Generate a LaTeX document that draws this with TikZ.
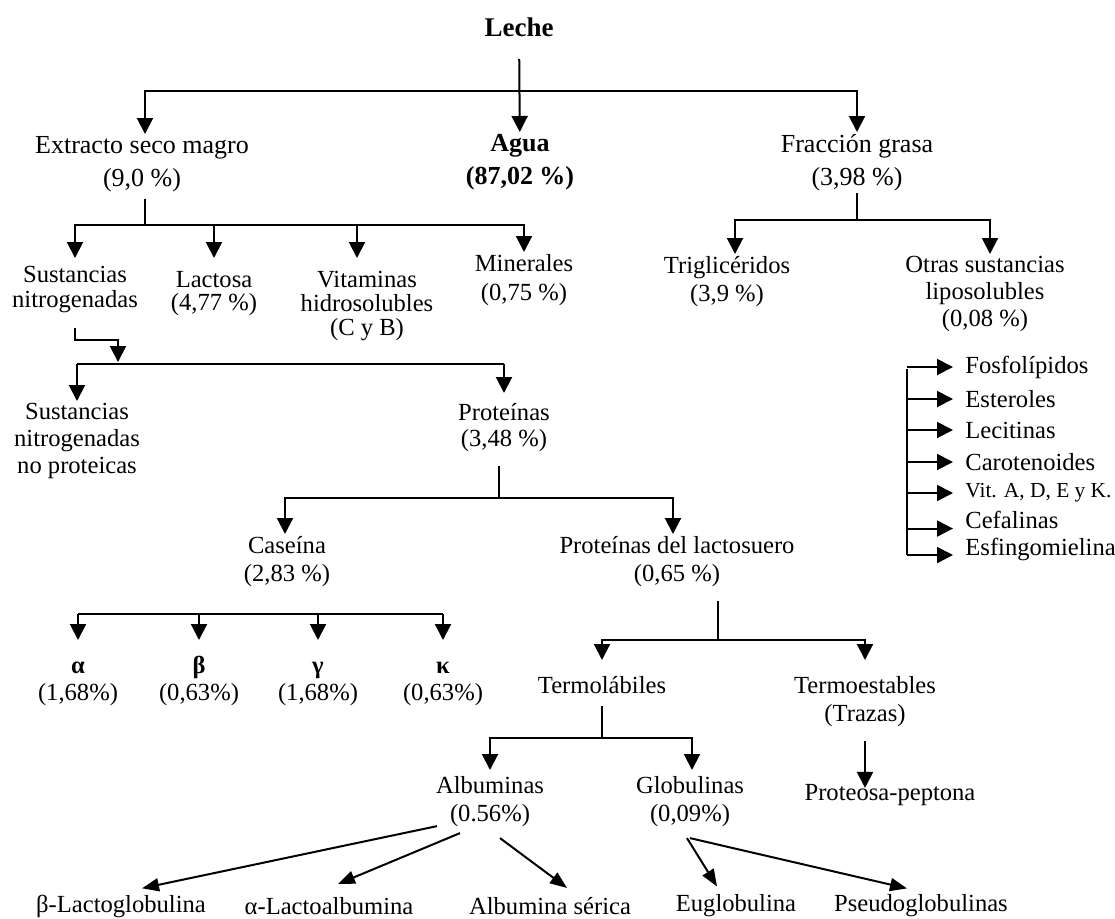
\documentclass[tikz,border=0pt]{standalone}
\usepackage{fontspec}
\setmainfont{Liberation Serif}
\usetikzlibrary{arrows.meta, positioning}

\begin{document}
\begin{tikzpicture}[x=0.5pt, y=-0.5pt,
        box/.style={align=center, inner sep=1pt, font=\fontsize{12.3}{13.5}\selectfont},
        top/.style={box, anchor=north, font=\fontsize{13}{16.5}\selectfont},
        item/.style={anchor=west, inner sep=1pt, font=\fontsize{12.3}{14}\selectfont},
        line/.style={draw, line width=1pt},
        arr/.style={line, -{Triangle[width=8pt, length=8pt]}},
        slant/.style={line, -{Triangle[width=6.5pt, length=8.5pt]}},
        lipo/.style={arr, shorten >=5pt}]

    \useasboundingbox (0,0) rectangle (1115,918);

    % Nodes
    \node [box, font=\bfseries\fontsize{13.5}{16}\selectfont] (leche) at (519,27) {Leche};
    \node [top] (esm) at (142,134) {Extracto seco magro\\(9,0 \%)};
    \node [top, font=\bfseries\fontsize{13}{16.5}\selectfont] (agua) at (520,132) {Agua\\(87,02 \%)};
    \node [top] (grasa) at (857,132) {Fracción grasa\\(3,98 \%)};

    \node [box, anchor=north, font=\fontsize{12.3}{12.5}\selectfont] (nitro) at (75,264) {Sustancias\\nitrogenadas};
    \node [box, anchor=north, font=\fontsize{12.3}{11.5}\selectfont] (lactosa) at (214,269) {Lactosa\\(4,77 \%)};
    \node [box, anchor=north, font=\fontsize{12.3}{12}\selectfont] (vitam) at (367,269) {Vitaminas\\hidrosolubles\\(C y B)};
    \node [box, anchor=north, font=\fontsize{12.3}{14.5}\selectfont] (miner) at (524,252) {Minerales\\(0,75 \%)};
    \node [box, anchor=north, font=\fontsize{12.3}{14}\selectfont] (trigli) at (727,254) {Triglicéridos\\(3,9 \%)};
    \node [box, anchor=north] (otras) at (985,254) {Otras sustancias\\liposolubles\\(0,08 \%)};

    \node [item] (fosfo) at (963,367) {Fosfolípidos};
    \node [item] (ester) at (963,399) {Esteroles};
    \node [item] (lecit) at (963,430) {Lecitinas};
    \node [item] (carot) at (963,462) {Carotenoides};
    \node [item, font=\fontsize{10.7}{12}\selectfont] (vitak) at (963,493) {Vit. A, D, E y K.};
    \node [item] (cefal) at (963,520) {Cefalinas};
    \node [item] (esfin) at (963,549) {Esfingomielina};

    \node [box, anchor=north] (nnp) at (77,401) {Sustancias\\nitrogenadas\\no proteicas};
    \node [box, anchor=north, font=\fontsize{12.3}{13}\selectfont] (prot) at (504,401) {Proteínas\\(3,48 \%)};
    \node [box, anchor=north, font=\fontsize{12.3}{14}\selectfont] (caseina) at (287,534) {Caseína\\(2,83 \%)};
    \node [box, anchor=north, font=\fontsize{12.3}{14}\selectfont] (suero) at (677,534) {Proteínas del lactosuero\\(0,65 \%)};

    \node [box, anchor=north] (alfa) at (78,654) {\textbf{α}\vphantom{(}\\(1,68\%)};
    \node [box, anchor=north] (beta) at (199,654) {\textbf{β}\vphantom{(}\\(0,63\%)};
    \node [box, anchor=north] (gamma) at (318,654) {\textbf{γ}\vphantom{(}\\(1,68\%)};
    \node [box, anchor=north] (kappa) at (443,654) {\textbf{κ}\vphantom{(}\\(0,63\%)};

    \node [box, anchor=north] (termol) at (602,674) {Termolábiles};
    \node [box, anchor=north, font=\fontsize{12.3}{14}\selectfont] (termoe) at (865,674) {Termoestables\\(Trazas)};
    \node [box, anchor=north, font=\fontsize{12.3}{14}\selectfont] (albu) at (490,774) {Albuminas\\(0.56\%)};
    \node [box, anchor=north, font=\fontsize{12.3}{14}\selectfont] (glob) at (690,774) {Globulinas\\(0,09\%)};
    \node [box] (pp) at (890,795) {Proteosa-peptona};

    \node [box] (blg) at (121,906) {β-Lactoglobulina};
    \node [box] (ala) at (329,906) {α-Lactoalbumina};
    \node [box] (albs) at (550,906) {Albumina sérica};
    \node [box] (eug) at (736,906) {Euglobulina};
    \node [box] (pseudo) at (921,906) {Pseudoglobulinas};

    % Bus points
    \coordinate (b1) at (520,91);
    \coordinate (b2) at (145,225);
    \coordinate (b3) at (857,220);
    \coordinate (b4) at (118,364);
    \coordinate (b5) at (499,498);
    \coordinate (b6) at (78,614);
    \coordinate (b7) at (718,640);
    \coordinate (b8) at (602,738);
    \coordinate (lbar) at (907,369);

    % Edges
    \draw [arr, shorten <=10pt] (leche) -- (agua);
    \draw [arr] (b1) -| ([xshift=1.5pt]esm.north);
    \draw [arr] (b1) -| (grasa);

    \draw [line, shorten <=2.5pt] (esm.south -| b2) -- (b2);
    \draw [arr, shorten >=3pt] (b2) -| (nitro);
    \draw [arr, shorten >=5.5pt] (b2) -| (lactosa);
    \draw [arr, shorten >=5.5pt] (b2) -| ([xshift=-5pt]vitam.north);
    \draw [arr] (b2) -| (miner);

    \draw [line] (grasa) -- (b3);
    \draw [arr] (b3) -| ([xshift=4pt]trigli.north);
    \draw [arr] (b3) -| ([xshift=2.5pt]otras.north);

    \draw [line] (lbar) -- (lbar |- esfin.base);
    \draw [lipo] (lbar |- fosfo) -- (fosfo);
    \draw [lipo] (lbar |- ester) -- (ester);
    \draw [lipo] (lbar |- lecit) -- (lecit);
    \draw [lipo] (lbar |- carot) -- (carot);
    \draw [lipo] (lbar |- vitak) -- (vitak);
    \draw [lipo] (lbar |- cefal.base) -- (cefal.base west);
    \draw [lipo] (lbar |- esfin.base) -- (esfin.base west);

    \draw [arr, shorten <=6.5pt, shorten >=1pt] (nitro.south) |- ([yshift=12pt]b4) -- (b4);
    \draw [line] (nnp |- b4) -- (prot |- b4);
    \draw [arr] (nnp |- b4) -- (nnp);
    \draw [arr, shorten >=4pt] (prot |- b4) -- (prot);

    \draw [line, shorten <=6pt] (prot.south -| b5) -- (b5);
    \draw [arr] (b5) -| ([xshift=-1pt]caseina.north);
    \draw [arr] (b5) -| ([xshift=-2pt]suero.north);

    \draw [line] (alfa |- b6) -- (kappa |- b6);
    \draw [arr, shorten >=7pt] (alfa |- b6) -- (alfa);
    \draw [arr, shorten >=7pt] (beta |- b6) -- (beta);
    \draw [arr, shorten >=7pt] (gamma |- b6) -- (gamma);
    \draw [arr, shorten >=7pt] (kappa |- b6) -- (kappa);

    \draw [line, shorten <=6pt] (suero.south -| b7) -- (b7);
    \draw [arr, shorten >=7pt] (b7) -| (termol);
    \draw [arr, shorten >=7pt] (b7) -| (termoe);

    \draw [line, shorten <=5pt] (termol) -- (b8);
    \draw [arr, shorten >=2pt] (b8) -| (albu);
    \draw [arr, shorten >=2pt] (b8) -| ([xshift=1pt]glob.north);
    \draw [arr, shorten <=6pt, shorten >=-3pt] (termoe) -- (termoe |- pp.north);

    \draw [slant] ([xshift=-26.5pt, yshift=1.5pt]albu.south) -- ([xshift=10.5pt, yshift=2pt]blg.north);
    \draw [slant] ([xshift=-15pt, yshift=-2pt]albu.south) -- ([xshift=4.5pt, yshift=5.5pt]ala.north);
    \draw [slant] ([xshift=5pt, yshift=-4.5pt]albu.south) -- ([xshift=8.5pt, yshift=3.5pt]albs.north);
    \draw [slant] ([xshift=-1.5pt, yshift=-4.5pt]glob.south) -- ([xshift=-9.5pt, yshift=3pt]eug.north);
    \draw [slant] ([xshift=0pt, yshift=-4.5pt]glob.south) -- ([xshift=-7pt, yshift=2pt]pseudo.north);
\end{tikzpicture}
\end{document}
